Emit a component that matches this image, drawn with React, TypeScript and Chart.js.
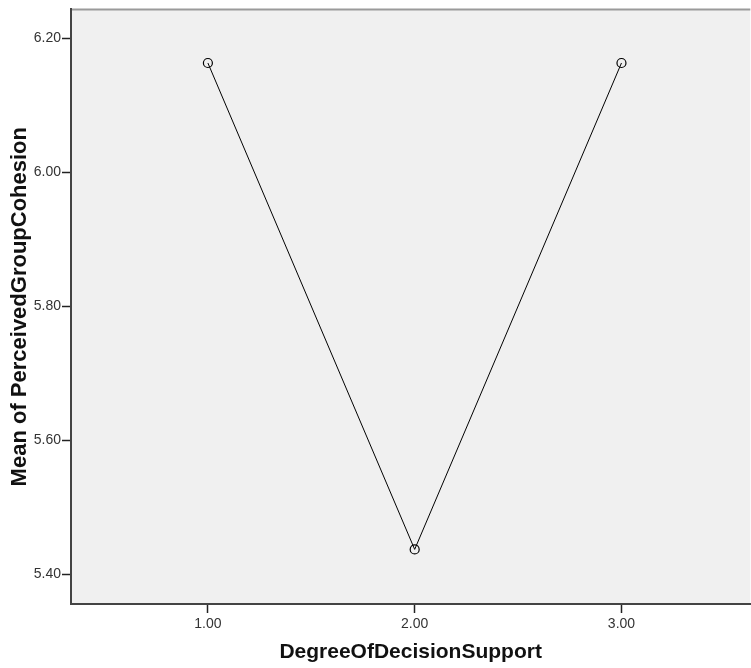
import React, { useEffect, useRef } from "react";
import { Chart, registerables } from "chart.js";

Chart.register(...registerables);

const categories = [1, 2, 3];
const means = [6.163, 5.437, 6.163];
const yTicks = [5.4, 5.6, 5.8, 6.0, 6.2];
const xTicks = [1, 2, 3];

const bgPlugin = {
  id: "bgPlugin",
  beforeDraw(chart: any) {
    const { ctx, chartArea } = chart;
    ctx.save();
    ctx.fillStyle = "#f0f0f0";
    ctx.fillRect(chartArea.left, chartArea.top, chartArea.right - chartArea.left, chartArea.bottom - chartArea.top);
    ctx.strokeStyle = "#9a9a9a";
    ctx.lineWidth = 2;
    ctx.beginPath();
    ctx.moveTo(chartArea.left, chartArea.top);
    ctx.lineTo(chartArea.right, chartArea.top);
    ctx.stroke();
    ctx.restore();
  },
};

const FONT = "'Liberation Sans', Arial, sans-serif";
const CANVAS_W = 756;

export default function App() {
  const ref = useRef<HTMLCanvasElement>(null);
  useEffect(() => {
    if (!ref.current) return;
    const chart = new Chart(ref.current, {
      type: "line",
      data: {
        datasets: [
          {
            data: categories.map((c, i) => ({ x: c, y: means[i] })),
            borderColor: "#000",
            borderWidth: 1,
            pointRadius: 4.5,
            pointBorderWidth: 1.2,
            pointBackgroundColor: "rgba(0,0,0,0)",
            pointBorderColor: "#000",
            fill: false,
            tension: 0,
          },
        ],
      },
      plugins: [bgPlugin],
      options: {
        animation: false,
        responsive: false,
        layout: { padding: { top: 6, right: 0, left: 0, bottom: 0 } },
        plugins: { legend: { display: false }, tooltip: { enabled: false } },
        scales: {
          x: {
            type: "linear",
            min: 0.338,
            max: 3.623,
            afterBuildTicks: (s: any) => {
              s.ticks = xTicks.map((v) => ({ value: v }));
            },
            afterFit: (s: any) => {
              s.height = 64;
            },
            ticks: {
              callback: (v: any) => Number(v).toFixed(2),
              color: "#333",
              font: { family: FONT, size: 14 },
              padding: 3,
              maxRotation: 0,
            },
            grid: { drawOnChartArea: false, tickLength: 9, color: "#222", tickWidth: 1.5 },
            border: { color: "#444", width: 2 },
            title: {
              display: true,
              text: "DegreeOfDecisionSupport",
              color: "#111",
              font: { family: FONT, size: 21, weight: "bold" },
              padding: { top: 2, bottom: 3 },
            },
          },
          y: {
            type: "linear",
            min: 5.3555,
            max: 6.243,
            afterBuildTicks: (s: any) => {
              s.ticks = yTicks.map((v) => ({ value: v }));
            },
            afterFit: (s: any) => {
              s.width = 71;
            },
            ticks: {
              callback: (v: any) => Number(v).toFixed(2),
              color: "#333",
              font: { family: FONT, size: 14 },
              padding: 1,
            },
            grid: { drawOnChartArea: false, tickLength: 9, color: "#222", tickWidth: 1.5 },
            border: { color: "#444", width: 2 },
            title: {
              display: true,
              text: "Mean of PerceivedGroupCohesion",
              color: "#111",
              font: { family: FONT, size: 22, weight: "bold" },
              padding: { top: 7, bottom: 2 },
            },
          },
        },
      },
    } as any);
    return () => chart.destroy();
  }, []);
  return (
    <div style={{ position: "fixed", left: 0, top: 0, width: 751, height: 668, background: "#fff", overflow: "hidden" }}>
      <canvas ref={ref} width={CANVAS_W} height={668} style={{ width: CANVAS_W, height: 668, display: "block" }} />
    </div>
  );
}
